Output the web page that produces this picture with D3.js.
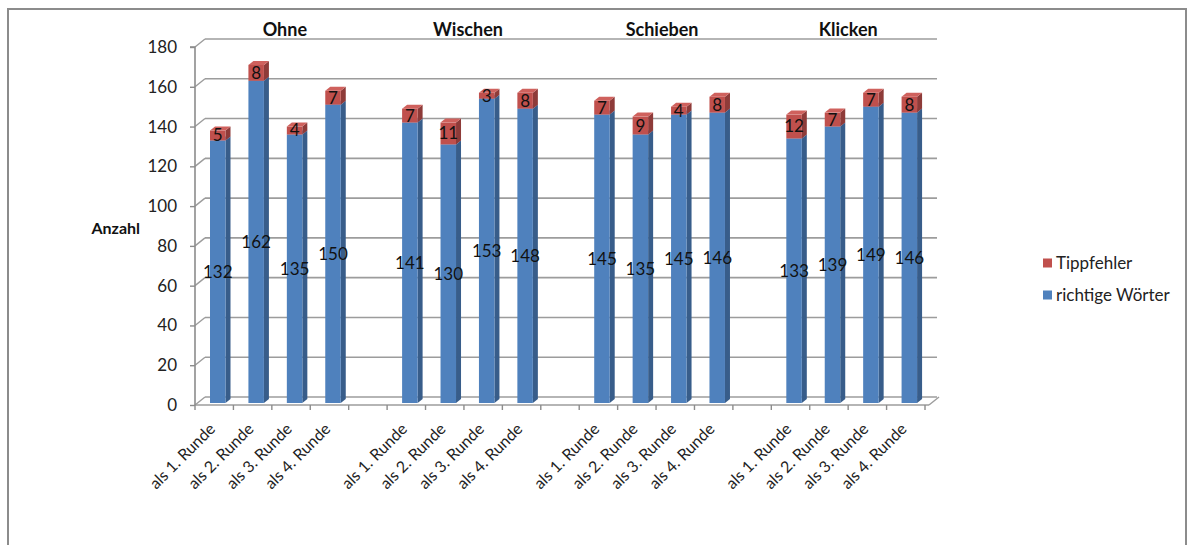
<!DOCTYPE html>
<html>
<head>
<meta charset="utf-8">
<script src="https://cdn.jsdelivr.net/npm/d3@7"></script>
<style>
  html, body { margin: 0; padding: 0; background: #fff; }
  svg { display: block; font-family: Lato, "Open Sans", sans-serif; }
</style>
</head>
<body>
<svg id="chart" width="1188" height="545"></svg>
<script>
// Gruppen und Runden
const groups = ["Ohne", "Wischen", "Schieben", "Klicken"];
const rounds = ["als 1. Runde", "als 2. Runde", "als 3. Runde", "als 4. Runde"];

// richtige Wörter je Gruppe (Runde 1–4)
const correctOhne     = [132, 162, 135, 150];
const correctWischen  = [141, 130, 153, 148];
const correctSchieben = [145, 135, 145, 146];
const correctKlicken  = [133, 139, 149, 146];

// Tippfehler je Gruppe (Runde 1–4)
const typosOhne     = [5, 8, 4, 7];
const typosWischen  = [7, 11, 3, 8];
const typosSchieben = [7, 9, 4, 8];
const typosKlicken  = [12, 7, 7, 8];

const yTicks = [0, 20, 40, 60, 80, 100, 120, 140, 160, 180];
const seriesNames = ["Tippfehler", "richtige Wörter"];

const correctAll = [correctOhne, correctWischen, correctSchieben, correctKlicken];
const typosAll = [typosOhne, typosWischen, typosSchieben, typosKlicken];

// Flache Tabelle: ein Eintrag pro Säule, mit einer Leerspalte zwischen den Gruppen
const rows = [];
const slots = [];
groups.forEach((g, gi) => {
  rounds.forEach((r, ri) => {
    const key = g + "|" + r;
    slots.push(key);
    rows.push({ key, group: g, round: r, correct: correctAll[gi][ri], typos: typosAll[gi][ri] });
  });
  if (gi < groups.length - 1) slots.push("gap" + gi);
});

const svg = d3.select("#chart");

// Rahmen des Diagrammbereichs
svg.append("rect")
  .attr("x", 8).attr("y", 9).attr("width", 1178).attr("height", 560)
  .attr("fill", "none").attr("stroke", "#8c8c8c").attr("stroke-width", 2);

// Perspektive: Versatz der Rückwand gegenüber der Vorderkante
const depth = { dx: 10, dy: -8 };
const plotLeft = 195, plotRight = 925;

const x = d3.scaleBand().domain(slots).range([plotLeft, plotRight]).padding(0);
const y = d3.scaleLinear().domain([0, 180]).range([405, 47]);

const gridColor = "#9c9c9c";

// Rückwand-Gitterlinien mit Diagonale über die Seitenwand
const grid = svg.append("g");
yTicks.forEach(v => {
  grid.append("line")
    .attr("x1", plotLeft + depth.dx).attr("x2", plotRight + depth.dx + 2)
    .attr("y1", y(v) + depth.dy).attr("y2", y(v) + depth.dy)
    .attr("stroke", gridColor).attr("stroke-width", 1.6);
  grid.append("line")
    .attr("x1", plotLeft).attr("x2", plotLeft + depth.dx)
    .attr("y1", y(v)).attr("y2", y(v) + depth.dy)
    .attr("stroke", gridColor).attr("stroke-width", 1.4);
});

// Boden: Vorderkante und rechte Diagonale
grid.append("line")
  .attr("x1", plotLeft).attr("x2", plotRight + 4)
  .attr("y1", y(0)).attr("y2", y(0))
  .attr("stroke", gridColor).attr("stroke-width", 1.6);
grid.append("line")
  .attr("x1", plotRight + 4).attr("x2", plotRight + depth.dx + 4)
  .attr("y1", y(0)).attr("y2", y(0) + depth.dy)
  .attr("stroke", gridColor).attr("stroke-width", 1.4);

// Y-Achse
const yAxis = d3.axisLeft(y).tickValues(yTicks).tickSize(5).tickPadding(13);
const yg = svg.append("g").attr("transform", `translate(${plotLeft},0)`).call(yAxis);
yg.select(".domain").attr("stroke", "#8c8c8c").attr("stroke-width", 1.6)
  .attr("d", `M-5,${y(180)}H0V${y(0)}`);
yg.selectAll(".tick line").attr("stroke", "#8c8c8c").attr("stroke-width", 1.4);
yg.selectAll(".tick text").attr("font-size", 17).attr("fill", "#222")
  .attr("font-family", "Lato, sans-serif");

// X-Achse: Teilstriche an jeder Spaltengrenze
const xg = svg.append("g");
const boundaries = slots.map(s => x(s)).concat([plotRight]);
xg.selectAll("line.tk").data(boundaries).join("line")
  .attr("class", "tk")
  .attr("x1", d => d).attr("x2", d => d)
  .attr("y1", y(0)).attr("y2", y(0) + 5)
  .attr("stroke", "#8c8c8c").attr("stroke-width", 1.4);

// Kategoriebeschriftungen, um 45° gedreht
xg.selectAll("text.cat").data(rows).join("text")
  .attr("class", "cat")
  .attr("transform", d => `translate(${x(d.key) + x.bandwidth() / 2 + 2},${y(0) + 25}) rotate(-45)`)
  .attr("text-anchor", "end")
  .attr("font-size", 16)
  .attr("fill", "#222")
  .text(d => d.round);

// 3D-Säulen
const colors = {
  correct: { front: "#4f81bd", side: "#385d8a", top: "#6a95cc" },
  typos:   { front: "#c0504d", side: "#8e3b39", top: "#cf615d" }
};
const barOff = 15, barW = 15.5, bdx = 5, bdy = -4, lift = -2;

const bars = svg.append("g");
function prism(g, x0, yTop, yBot, c) {
  const x1 = x0 + barW;
  g.append("path")
    .attr("d", `M${x1},${yBot}L${x1 + bdx},${yBot + bdy}L${x1 + bdx},${yTop + bdy}L${x1},${yTop}Z`)
    .attr("fill", c.side);
  g.append("rect")
    .attr("x", x0).attr("y", yTop).attr("width", barW).attr("height", yBot - yTop)
    .attr("fill", c.front);
  g.append("path")
    .attr("d", `M${x0},${yTop}L${x0 + bdx},${yTop + bdy}L${x1 + bdx},${yTop + bdy}L${x1},${yTop}Z`)
    .attr("fill", c.top);
}
rows.forEach(d => {
  const g = bars.append("g");
  const x0 = x(d.key) + barOff;
  prism(g, x0, y(d.correct) + lift, y(0) + lift, colors.correct);
  prism(g, x0, y(d.correct + d.typos) + lift, y(d.correct) + lift, colors.typos);
});

// Wertebeschriftungen in der Mitte jedes Segments
const labels = svg.append("g").attr("font-size", 17).attr("fill", "#111").attr("text-anchor", "middle");
rows.forEach(d => {
  const cx = x(d.key) + barOff + barW / 2;
  labels.append("text")
    .attr("x", cx).attr("y", y(d.correct / 2) + lift)
    .attr("dy", "0.35em").text(d.correct);
  labels.append("text")
    .attr("x", cx).attr("y", y(d.correct + d.typos / 2) + lift)
    .attr("dy", "0.35em").text(d.typos);
});

// Gruppentitel über den Säulengruppen
const titleNudge = [7, -2, 0, -6];
svg.append("g").selectAll("text").data(groups).join("text")
  .attr("x", (g, i) => {
    const first = x(g + "|" + rounds[0]) + barOff;
    const last = x(g + "|" + rounds[3]) + barOff + barW + bdx;
    return (first + last) / 2 + titleNudge[i];
  })
  .attr("y", 36)
  .attr("text-anchor", "middle")
  .attr("font-size", 18).attr("font-weight", "bold").attr("fill", "#111")
  .text(g => g);

// Achsentitel
svg.append("text")
  .attr("x", 140).attr("y", 228).attr("dy", "0.35em")
  .attr("text-anchor", "end")
  .attr("font-size", 16).attr("font-weight", "bold").attr("fill", "#111")
  .text("Anzahl");

// Legende
const legendColors = [colors.typos.front, colors.correct.front];
const legendY = [263, 295];
const lg = svg.append("g");
seriesNames.forEach((name, i) => {
  lg.append("rect").attr("x", 1043).attr("y", legendY[i] - 4.5)
    .attr("width", 9).attr("height", 9).attr("fill", legendColors[i]);
  lg.append("text").attr("x", 1056).attr("y", legendY[i]).attr("dy", "0.35em")
    .attr("font-size", 17).attr("fill", "#222").text(name);
});
</script>
</body>
</html>
